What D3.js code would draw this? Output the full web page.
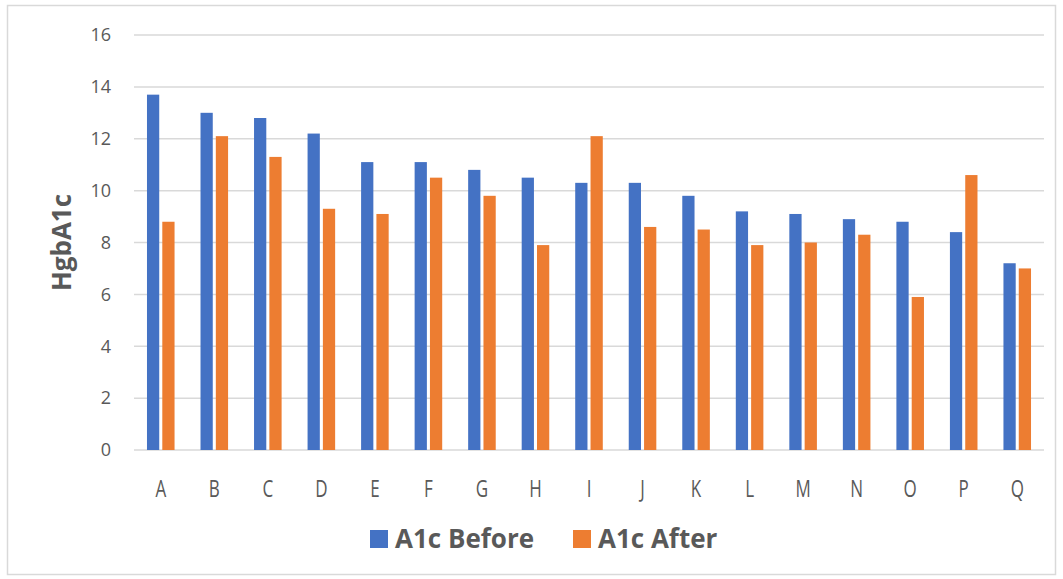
<!DOCTYPE html>
<html>
<head>
<meta charset="utf-8">
<script src="https://cdn.jsdelivr.net/npm/d3@7"></script>
<style>
  html, body { margin: 0; padding: 0; background: #fff; }
  svg { display: block; font-family: "Open Sans", Lato, sans-serif; }
</style>
</head>
<body>
<div id="chart"></div>
<script>
// ---- data ----
const categories = ["A","B","C","D","E","F","G","H","I","J","K","L","M","N","O","P","Q"];
const seriesNames = ["A1c Before", "A1c After"];
const a1cBefore = [13.7, 13.0, 12.8, 12.2, 11.1, 11.1, 10.8, 10.5, 10.3, 10.3, 9.8, 9.2, 9.1, 8.9, 8.8, 8.4, 7.2];
const a1cAfter  = [8.8, 12.1, 11.3, 9.3, 9.1, 10.5, 9.8, 7.9, 12.1, 8.6, 8.5, 7.9, 8.0, 8.3, 5.9, 10.6, 7.0];
const yTicks = [0, 2, 4, 6, 8, 10, 12, 14, 16];
const colors = ["#4472C4", "#ED7D31"];

const W = 1063, H = 579;
const plot = { left: 134, right: 1044, top: 35, bottom: 450 };

const svg = d3.select("#chart").append("svg")
    .attr("width", W)
    .attr("height", H);

// chart frame
svg.append("rect")
    .attr("x", 7.5).attr("y", 5.5)
    .attr("width", W - 15).attr("height", H - 10)
    .attr("fill", "#fff")
    .attr("stroke", "#d9d9d9")
    .attr("stroke-width", 1.5);

const rows = categories.map((c, i) => ({ cat: c, values: [a1cBefore[i], a1cAfter[i]] }));

const x = d3.scaleBand()
    .domain(categories)
    .range([plot.left, plot.right])
    .paddingInner(0.485)
    .paddingOuter(0.2425);

const x1 = d3.scaleBand()
    .domain([0, 1])
    .range([0, x.bandwidth()])
    .paddingInner(0.2);

const y = d3.scaleLinear()
    .domain([0, 16])
    .range([plot.bottom, plot.top]);

// gridlines
svg.append("g")
    .selectAll("line")
    .data(yTicks)
    .join("line")
    .attr("x1", plot.left).attr("x2", plot.right)
    .attr("y1", d => y(d)).attr("y2", d => y(d))
    .attr("stroke", "#d9d9d9")
    .attr("stroke-width", 1.5);

// y axis labels
const yAxis = svg.append("g")
    .attr("transform", `translate(${plot.left - 23},0)`)
    .call(d3.axisLeft(y).tickValues(yTicks).tickSize(0).tickPadding(0));
yAxis.select(".domain").remove();
yAxis.selectAll("text")
    .attr("fill", "#595959")
    .style("font-size", "18px")
    .style("font-family", "'Open Sans', sans-serif");

// x axis labels (slightly tall/condensed like the original)
const xAxis = svg.append("g")
    .attr("transform", `translate(0,${plot.bottom})`)
    .call(d3.axisBottom(x).tickSize(0).tickPadding(0));
xAxis.select(".domain").remove();
xAxis.selectAll("text")
    .attr("dy", null)
    .attr("y", 0)
    .attr("transform", "translate(0,47) scale(1,1.38)")
    .attr("fill", "#595959")
    .style("font-size", "17px")
    .style("font-family", "'Open Sans', sans-serif");

// bars
svg.append("g")
    .selectAll("g")
    .data(rows)
    .join("g")
    .attr("transform", d => `translate(${x(d.cat)},0)`)
    .selectAll("rect")
    .data(d => d.values.map((v, k) => ({ k, v })))
    .join("rect")
    .attr("x", d => x1(d.k))
    .attr("width", x1.bandwidth())
    .attr("y", d => y(d.v))
    .attr("height", d => y(0) - y(d.v))
    .attr("fill", d => colors[d.k]);

// y axis title
svg.append("text")
    .attr("transform", `translate(71,${(plot.top + plot.bottom) / 2}) rotate(-90)`)
    .attr("text-anchor", "middle")
    .attr("fill", "#595959")
    .style("font-size", "26px")
    .style("font-weight", "bold")
    .text("HgbA1c");

// legend
const legendX = [370, 573];
const legend = svg.append("g")
    .selectAll("g")
    .data(seriesNames)
    .join("g")
    .attr("transform", (d, i) => `translate(${legendX[i]},530)`);
legend.append("rect")
    .attr("width", 18).attr("height", 18)
    .attr("fill", (d, i) => colors[i]);
legend.append("text")
    .attr("x", 25).attr("y", 18)
    .attr("fill", "#595959")
    .style("font-size", "26px")
    .style("font-weight", "bold")
    .text(d => d);
</script>
</body>
</html>
